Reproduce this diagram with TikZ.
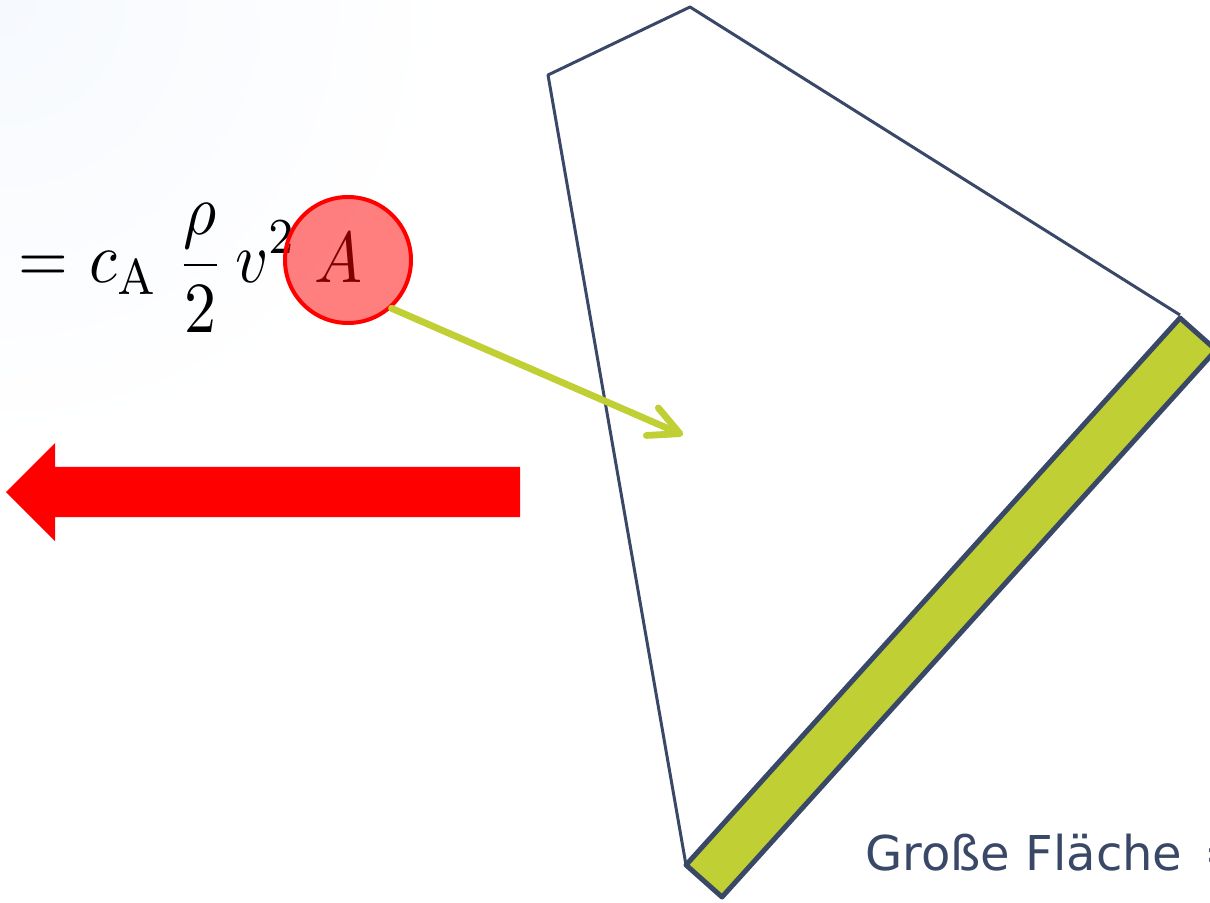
\documentclass[tikz,border=0pt]{standalone}
\usepackage{fontspec}
\usepackage{graphicx}
\newfontfamily\labelfont{DejaVu Sans}
\usetikzlibrary{arrows.meta, positioning}
\definecolor{outlinenavy}{RGB}{58,72,104}
\definecolor{limegreen}{RGB}{192,208,52}
\definecolor{paleblue}{RGB}{246,249,254}

\begin{document}
\begin{tikzpicture}[
    x=0.5pt, y=-0.5pt,
    outline/.style={draw=outlinenavy, line width=1.5pt, line join=round},
    bar/.style={draw=outlinenavy, fill=limegreen, line width=2.5pt, line join=round},
    pointer/.style={draw=limegreen, line width=3.4pt, line cap=round,
      -{Straight Barb[length=15pt, width=15pt, round]}},
    areamark/.style={circle, draw=red, line width=2pt, fill=red, fill opacity=0.5,
      draw opacity=1, minimum size=63pt, inner sep=0pt}
  ]
    \useasboundingbox (0,0) rectangle (1210,903);
    \clip (0,0) rectangle (1210,903);
    \shade[inner color=paleblue, outer color=white] (0,0) circle[radius=450];

    % body outline and the large face
    \draw[outline] (686,865) -- (548,75) -- (690,7) -- (1180,315);
    \draw[bar] (686,865) -- (1180,318) -- (1216,350) -- (722,897) -- cycle;

    % drag formula
    \node[anchor=base west, inner sep=0pt] (formula) at (18,283)
      {\scalebox{3.2}[3.6]{$\displaystyle = \mkern1mu c_{\mathrm{A}}\;\frac{\rho}{2}\,v^2\;A$}};
    \node[areamark] (area) at (348,260) {};
    \coordinate (facecentre) at (683,435);
    \draw[pointer] (area.-48) -- (facecentre);

    % direction of motion
    \fill[red] (6,492) -- (55,443) -- (55,467) -- (520,467) -- (520,517)
      -- (55,517) -- (55,541) -- cycle;

    \node[anchor=base west, inner sep=0pt, text=outlinenavy] (label) at (865,870)
      {\labelfont\fontsize{24}{29}\selectfont Große Fläche\hspace{3.5pt} =};
  \end{tikzpicture}
\end{document}
